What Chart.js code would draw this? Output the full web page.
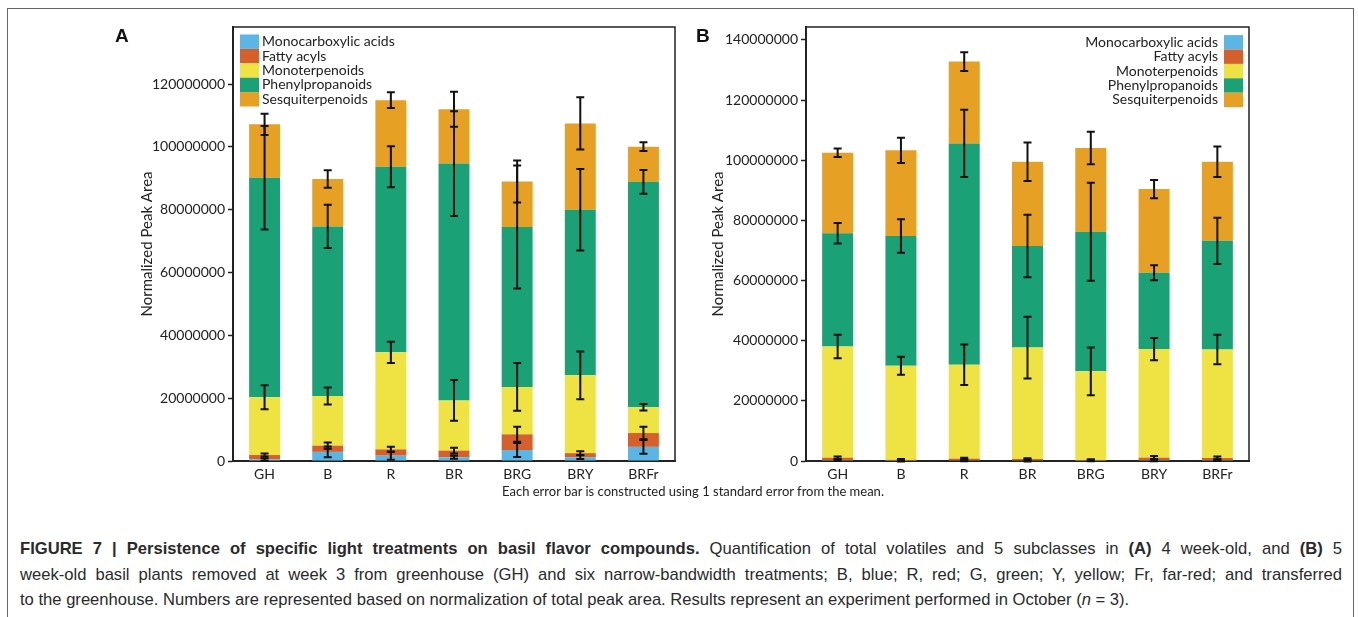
<!DOCTYPE html>
<html>
<head>
<meta charset="utf-8">
<script src="https://cdn.jsdelivr.net/npm/chart.js@4.4.0/dist/chart.umd.min.js"></script>
<style>
  body { margin: 0; background: #fff; width: 1358px; height: 617px; overflow: hidden; position: relative; font-family: Lato, sans-serif; color: #222; }
  #frame { position: absolute; left: 7px; top: 8px; width: 1347px; height: 660px; border: 1.5px solid #666; box-sizing: border-box; }
  .wrap { position: absolute; top: 20px; height: 470px; }
  #wrapA { left: 100px; width: 580px; }
  #wrapB { left: 680px; width: 575px; }
  .letter { position: absolute; top: 25px; font-family: "Liberation Sans", Arial, sans-serif; font-weight: bold; font-size: 19px; color: #111; }
  #note { position: absolute; top: 483px; left: 0; width: 1386px; text-align: center; font-size: 13px; }
  .cap { position: absolute; left: 20px; width: 1322px; font-family: "Liberation Sans", Arial, sans-serif; font-size: 16.6px; line-height: 20px; color: #2a2a2a; white-space: nowrap; }
  .just { text-align: justify; text-align-last: justify; white-space: normal; }
</style>
</head>
<body>
<div id="frame"></div>
<div class="wrap" id="wrapA"><canvas id="chartA"></canvas></div>
<div class="wrap" id="wrapB"><canvas id="chartB"></canvas></div>
<div class="letter" style="left:115px">A</div>
<div class="letter" style="left:696px">B</div>
<div id="note">Each error bar is constructed using 1 standard error from the mean.</div>
<div class="cap just" style="top:539px"><b>FIGURE 7 | Persistence of specific light treatments on basil flavor compounds.</b> Quantification of total volatiles and 5 subclasses in <b>(A)</b> 4 week-old, and <b>(B)</b> 5</div>
<div class="cap just" style="top:565px">week-old basil plants removed at week 3 from greenhouse (GH) and six narrow-bandwidth treatments; B, blue; R, red; G, green; Y, yellow; Fr, far-red; and transferred</div>
<div class="cap" style="top:590px">to the greenhouse. Numbers are represented based on normalization of total peak area. Results represent an experiment performed in October (<i>n</i> = 3).</div>
<script>
const labels = ["GH", "B", "R", "BR", "BRG", "BRY", "BRFr"];
const seriesNames = ["Monocarboxylic acids", "Fatty acyls", "Monoterpenoids", "Phenylpropanoids", "Sesquiterpenoids"];
const seriesColors = ["#5bb6e6", "#d5602a", "#efe344", "#1ba176", "#e6a023"];

// A : 4 week-old
const aTicks = [0, 20000000, 40000000, 60000000, 80000000, 100000000, 120000000];
const aMonocarboxylic = [500000, 2900000, 1700000, 1200000, 3500000, 1200000, 4500000];
const aFatty = [1400000, 2000000, 2000000, 2100000, 5000000, 1300000, 4400000];
const aMonoterp = [18400000, 15800000, 30900000, 16000000, 15100000, 24800000, 8200000];
const aPhenyl = [69900000, 54000000, 59100000, 75400000, 50900000, 52700000, 71800000];
const aSesqui = [17000000, 15100000, 21200000, 17300000, 14500000, 27500000, 11200000];
const aMonocarboxylicErr = [400000, 1700000, 1300000, 500000, 2200000, 600000, 2200000];
const aFattyErr = [500000, 1000000, 800000, 900000, 2400000, 600000, 2000000];
const aMonoterpErr = [3800000, 2700000, 3400000, 6500000, 7600000, 7600000, 1050000];
const aPhenylErr = [16500000, 6900000, 6500000, 16700000, 19600000, 13000000, 3800000];
const aSesquiErr = [3400000, 2750000, 2500000, 5600000, 6700000, 8300000, 1400000];

// B : 5 week-old
const bTicks = [0, 20000000, 40000000, 60000000, 80000000, 100000000, 120000000, 140000000];
const bMonocarboxylic = [300000, 100000, 200000, 150000, 100000, 300000, 300000];
const bFatty = [800000, 300000, 600000, 500000, 250000, 800000, 700000];
const bMonoterp = [37000000, 31300000, 31200000, 37050000, 29450000, 36100000, 36100000];
const bPhenyl = [37600000, 43100000, 73600000, 33800000, 46400000, 25400000, 36100000];
const bSesqui = [26800000, 28500000, 27200000, 28000000, 27900000, 27800000, 26300000];
const bMonocarboxylicErr = [300000, 300000, 300000, 300000, 200000, 400000, 300000];
const bFattyErr = [400000, 300000, 300000, 300000, 200000, 600000, 500000];
const bMonoterpErr = [3900000, 3000000, 6700000, 10300000, 7900000, 3700000, 4900000];
const bPhenylErr = [3400000, 5600000, 11200000, 10400000, 16300000, 2500000, 7700000];
const bSesquiErr = [1400000, 4200000, 3100000, 6400000, 5400000, 3000000, 5100000];

const ink = "#222";

// barres d'erreur au sommet de chaque segment empilé
const errorBars = {
  id: "errorBars",
  afterDatasetsDraw(chart, args, opts) {
    const ctx = chart.ctx;
    const xs = chart.scales.x, ys = chart.scales.y;
    const sets = chart.data.datasets;
    ctx.save();
    ctx.strokeStyle = "#111";
    ctx.lineWidth = 2;
    sets.forEach((ds, i) => {
      ds.data.forEach((v, j) => {
        let top = 0;
        for (let k = 0; k <= i; k++) top += sets[k].data[j];
        const e = opts.errs[i][j];
        const cx = xs.getPixelForValue(j);
        const y1 = ys.getPixelForValue(top + e);
        const y2 = ys.getPixelForValue(top - e);
        ctx.beginPath();
        ctx.moveTo(cx, y1); ctx.lineTo(cx, y2);
        ctx.moveTo(cx - 4, y1); ctx.lineTo(cx + 4, y1);
        ctx.moveTo(cx - 4, y2); ctx.lineTo(cx + 4, y2);
        ctx.stroke();
      });
    });
    ctx.restore();
  },
};

// cadre haut + droite et légende dans la zone du graphique
const boxLegend = {
  id: "boxLegend",
  afterDraw(chart, args, o) {
    const ctx = chart.ctx;
    const a = chart.chartArea;
    ctx.save();
    ctx.strokeStyle = ink;
    ctx.lineWidth = 1.5;
    ctx.beginPath();
    ctx.moveTo(a.left, a.top); ctx.lineTo(a.right, a.top); ctx.lineTo(a.right, a.bottom);
    ctx.stroke();
    ctx.font = "14px Lato";
    ctx.textBaseline = "middle";
    chart.data.datasets.forEach((ds, i) => {
      const cy = o.top + i * 14.4;
      ctx.fillStyle = ds.backgroundColor;
      ctx.fillRect(o.box, cy - 7.2, 19, 14.4);
      ctx.fillStyle = ink;
      ctx.textAlign = o.align;
      ctx.fillText(ds.label, o.text, cy);
    });
    ctx.restore();
  },
};

function makeChart(id, series, errs, tickVals, max, axisWidth, titlePad, rightPad, legend) {
  const ctx = document.getElementById(id).getContext("2d");
  return new Chart(ctx, {
    type: "bar",
    data: {
      labels: labels,
      datasets: series.map((d, i) => ({
        label: seriesNames[i],
        data: d,
        backgroundColor: seriesColors[i],
        barPercentage: 1,
        categoryPercentage: 0.49,
      })),
    },
    options: {
      responsive: true,
      maintainAspectRatio: false,
      animation: false,
      layout: { padding: { left: 0, right: rightPad, top: 7, bottom: 0 } },
      plugins: {
        legend: { display: false },
        tooltip: { enabled: false },
        errorBars: { errs: errs },
        boxLegend: legend,
      },
      scales: {
        x: {
          stacked: true,
          grid: { display: false, drawTicks: false },
          border: { color: ink, width: 2 },
          ticks: { color: ink, font: { family: "Lato", size: 14 }, padding: 5 },
          afterFit: (s) => { s.height = 29; s.paddingLeft = 0; s.paddingRight = 0; },
        },
        y: {
          stacked: true,
          min: 0,
          max: max,
          afterBuildTicks: (s) => { s.ticks = tickVals.map((v) => ({ value: v })); },
          afterFit: (s) => { s.width = axisWidth; s.paddingTop = 0; s.paddingBottom = 0; },
          ticks: {
            autoSkip: false,
            color: ink,
            font: { family: "Lato", size: 14 },
            padding: 3,
            callback: (v) => String(v),
          },
          grid: { drawOnChartArea: false, tickLength: 5, tickWidth: 1.5, tickColor: ink },
          border: { color: ink, width: 2 },
          title: { display: true, text: "Normalized Peak Area", color: ink, font: { family: "Lato", size: 15 }, padding: { top: titlePad, bottom: 0 } },
        },
      },
    },
    plugins: [errorBars, boxLegend],
  });
}

makeChart("chartA",
  [aMonocarboxylic, aFatty, aMonoterp, aPhenyl, aSesqui],
  [aMonocarboxylicErr, aFattyErr, aMonoterpErr, aPhenylErr, aSesquiErr],
  aTicks, 138200000, 133, 38, 5,
  { top: 21.7, box: 140, text: 162, align: "left" });

makeChart("chartB",
  [bMonocarboxylic, bFatty, bMonoterp, bPhenyl, bSesqui],
  [bMonocarboxylicErr, bFattyErr, bMonoterpErr, bPhenylErr, bSesquiErr],
  bTicks, 144300000, 126, 29, 6,
  { top: 22.3, box: 544, text: 538, align: "right" });
</script>
</body>
</html>
